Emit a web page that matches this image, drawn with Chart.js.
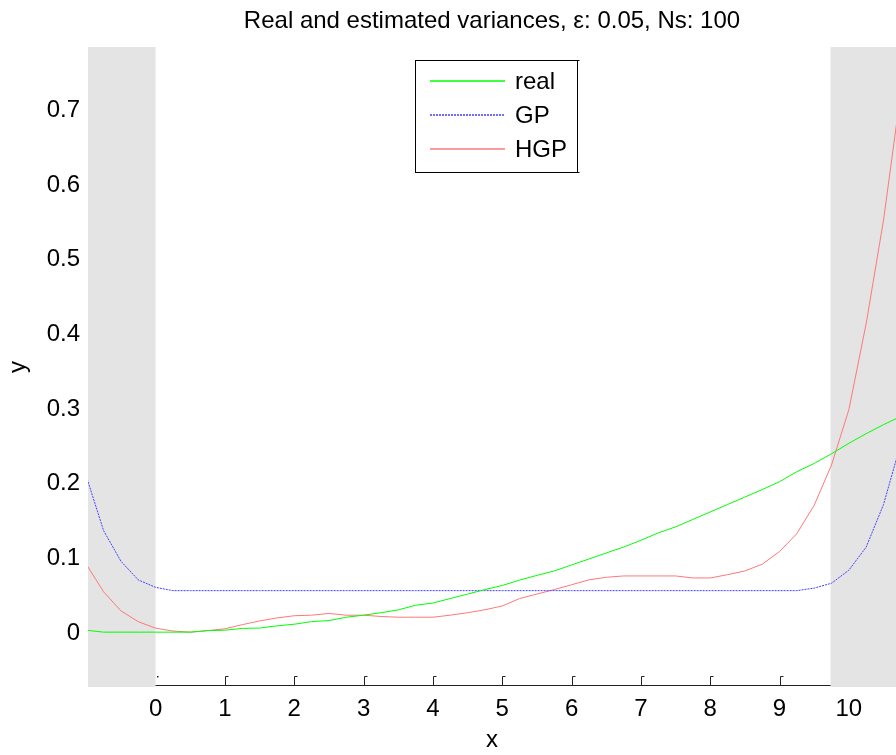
<!DOCTYPE html>
<html><head><meta charset="utf-8">
<script src="https://cdn.jsdelivr.net/npm/chart.js@4.4.0/dist/chart.umd.min.js"></script>
<style>html,body{margin:0;padding:0;background:#fff;}canvas{display:block;}</style>
</head><body>
<canvas id="c" width="896" height="755"></canvas>
<script>
const xValues = [-1,-0.75,-0.5,-0.25,0,0.25,0.5,0.75,1,1.25,1.5,1.75,2,2.25,2.5,2.75,3,3.25,3.5,3.75,4,4.25,4.5,4.75,5,5.25,5.5,5.75,6,6.25,6.5,6.75,7,7.25,7.5,7.75,8,8.25,8.5,8.75,9,9.25,9.5,9.75,10,10.25,10.5,10.75];
const realVar = [0.0036,0.001,0.001,0.001,0.001,0.001,0.001,0.003,0.0036,0.006,0.0065,0.0094,0.0116,0.0151,0.0165,0.021,0.0237,0.027,0.0308,0.037,0.040,0.046,0.052,0.058,0.0635,0.0707,0.077,0.083,0.091,0.099,0.107,0.115,0.124,0.134,0.142,0.152,0.162,0.172,0.182,0.192,0.2026,0.216,0.227,0.240,0.254,0.267,0.279,0.290];
const gpVar = [0.21,0.137,0.096,0.071,0.061,0.0566,0.0566,0.0566,0.0566,0.0566,0.0566,0.0566,0.0566,0.0566,0.0566,0.0566,0.0566,0.0566,0.0566,0.0566,0.0566,0.0566,0.0566,0.0566,0.0566,0.0566,0.0566,0.0566,0.0566,0.0566,0.0566,0.0566,0.0566,0.0566,0.0566,0.0566,0.0566,0.0566,0.0566,0.0566,0.0566,0.0566,0.060,0.0665,0.084,0.115,0.172,0.254];
const hgpVar = [0.092,0.055,0.0295,0.015,0.0063,0.0025,0.001,0.003,0.0055,0.011,0.016,0.020,0.023,0.0237,0.026,0.0237,0.0237,0.022,0.021,0.021,0.021,0.0237,0.027,0.031,0.036,0.046,0.052,0.058,0.0645,0.071,0.0745,0.0763,0.0763,0.0763,0.0763,0.0736,0.0736,0.078,0.083,0.092,0.109,0.133,0.171,0.225,0.299,0.4146,0.553,0.725];
const seriesNames = ['real','GP','HGP'];
const seriesColors = ['#00ff00','#4040ff','#ff7878'];
const seriesDash = [[],[2,1],[]];
const xTickValues = [0,1,2,3,4,5,6,7,8,9,10];
const yTickValues = [0,0.1,0.2,0.3,0.4,0.5,0.6,0.7];
const xRange = [-0.975, 10.68];
const yRange = [-0.0725, 0.785];
const shadedLeft = [-0.975, 0];
const shadedRight = [9.736, 10.68];
const titleText = 'Real and estimated variances, \u03b5: 0.05, Ns: 100';

const FONT = '"Liberation Sans", Arial, Helvetica, sans-serif';
const FS = 24;

function pts(ys){ return xValues.map((x,i)=>({x:x,y:ys[i]})); }

const decor = {
  id:'decor',
  beforeDatasetsDraw(chart){
    const {ctx, chartArea:a, scales:{x}} = chart;
    ctx.save();
    ctx.fillStyle = '#e4e4e4';
    [shadedLeft, shadedRight].forEach(r=>{
      const p0 = x.getPixelForValue(r[0]), p1 = x.getPixelForValue(r[1]);
      ctx.fillRect(p0, a.top, p1-p0, a.bottom-a.top);
    });
    const ax0 = x.getPixelForValue(shadedLeft[1]), ax1 = x.getPixelForValue(shadedRight[0]);
    const yb = a.bottom - 1.5;
    ctx.strokeStyle = '#222'; ctx.lineWidth = 1;
    ctx.beginPath(); ctx.moveTo(ax0, yb); ctx.lineTo(ax1, yb); ctx.stroke();
    xTickValues.forEach(v=>{
      const px = Math.round(x.getPixelForValue(v)) + 0.5;
      if (v > shadedLeft[1] && v < shadedRight[0]) {
        ctx.beginPath();
        ctx.moveTo(px, yb); ctx.lineTo(px, yb-9); ctx.lineTo(px+3, yb-9);
        ctx.stroke();
      } else if (v === shadedLeft[1]) {
        ctx.fillStyle = '#222';
        ctx.fillRect(px+0.5, yb-9.5, 1.5, 1.5);
      }
    });
    ctx.restore();
  },
  afterDraw(chart){
    const {ctx, chartArea:a} = chart;
    ctx.save();
    ctx.fillStyle = '#000';
    ctx.font = FS + 'px ' + FONT;
    ctx.textAlign = 'center'; ctx.textBaseline = 'middle';
    ctx.fillText(titleText, (a.left + a.right)/2, 21);
    const bx = 415.5, by = 60.5, bw = 162, bh = 112;
    ctx.fillStyle = '#fff';
    ctx.fillRect(bx, by, bw, bh);
    ctx.strokeStyle = '#000'; ctx.lineWidth = 1;
    ctx.strokeRect(bx, by, bw, bh);
    ctx.beginPath();
    ctx.moveTo(bx+bw, by); ctx.lineTo(bx+bw+2, by);
    ctx.moveTo(bx+bw, by+bh); ctx.lineTo(bx+bw+2, by+bh);
    ctx.stroke();
    const rows = [81, 115, 149];
    seriesNames.forEach((name,i)=>{
      ctx.strokeStyle = seriesColors[i];
      ctx.lineWidth = 1.5;
      ctx.setLineDash(seriesDash[i]);
      ctx.beginPath(); ctx.moveTo(430, rows[i]); ctx.lineTo(505, rows[i]); ctx.stroke();
      ctx.setLineDash([]);
      ctx.fillStyle = '#000';
      ctx.textAlign = 'left'; ctx.textBaseline = 'middle';
      ctx.fillText(name, 515, rows[i]+1);
    });
    ctx.restore();
  }
};

const seriesValues = [realVar, gpVar, hgpVar];

new Chart(document.getElementById('c'), {
  type:'line',
  data:{ datasets: seriesNames.map((name,i)=>({
    label:name, data:pts(seriesValues[i]), borderColor:seriesColors[i], borderWidth:1,
    borderDash:seriesDash[i], pointRadius:0, tension:0
  }))},
  options:{
    responsive:false, animation:false, devicePixelRatio:1,
    layout:{padding:{top:47, right:0, bottom:0, left:0}},
    plugins:{legend:{display:false}, title:{display:false}, tooltip:{enabled:false}},
    scales:{
      x:{type:'linear', min:xRange[0], max:xRange[1],
        grid:{display:false, drawTicks:false}, border:{display:false},
        afterBuildTicks(s){ s.ticks = xTickValues.map(v=>({value:v})); },
        afterFit(s){ s.height = 68; },
        ticks:{color:'#000', font:{family:FONT, size:FS}, padding:8, maxRotation:0, autoSkip:false,
          callback:(v)=>String(v)},
        title:{display:true, text:'x', color:'#000', font:{family:FONT, size:FS}, padding:{top:0,bottom:0}}
      },
      y:{type:'linear', min:yRange[0], max:yRange[1],
        grid:{display:false, drawTicks:false}, border:{display:false},
        afterBuildTicks(s){ s.ticks = yTickValues.map(v=>({value:v})); },
        afterFit(s){ s.width = 88; },
        ticks:{color:'#000', font:{family:FONT, size:FS}, padding:8, autoSkip:false,
          callback:(v)=>String(Math.round(v*10)/10)},
        title:{display:true, text:'y', color:'#000', font:{family:FONT, size:FS}, padding:{top:4,bottom:0}}
      }
    }
  },
  plugins:[decor]
});
</script>
</body></html>
